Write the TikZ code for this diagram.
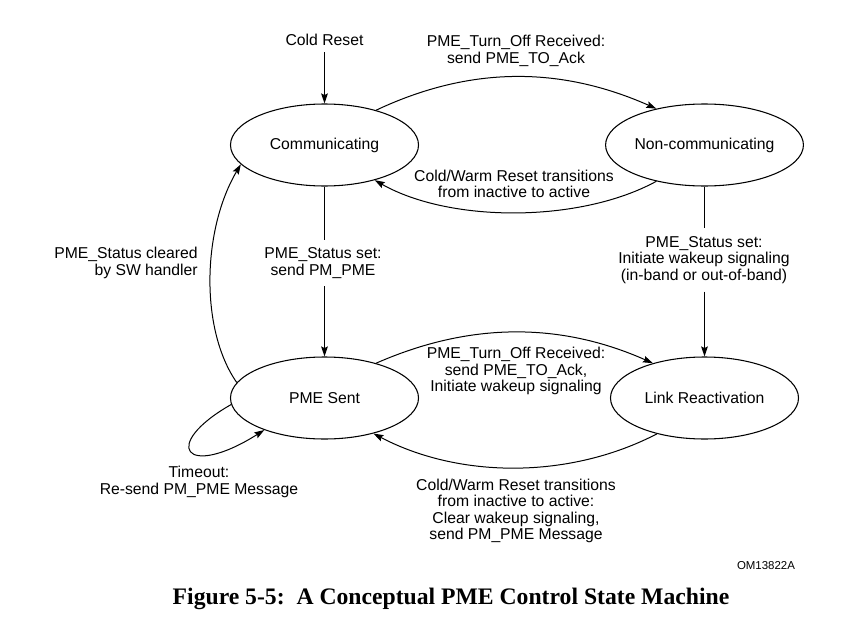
\documentclass[tikz,border=0pt]{standalone}
\usepackage{fontspec}
\setmainfont{Liberation Sans}
\newfontfamily\capfont{Liberation Serif}
\usetikzlibrary{arrows.meta,shapes.geometric}
\begin{document}
\begin{tikzpicture}[x=0.75pt,y=-0.75pt,
  state/.style={draw,ellipse,line width=0.8pt,minimum width=141pt,minimum height=61.5pt,inner sep=0pt,font=\fontsize{11.8}{12.3}\selectfont},
  lbl/.style={align=center,font=\fontsize{11.8}{12.3}\selectfont,inner sep=0pt},
  conn/.style={line width=0.75pt},
  arr/.style={line width=0.75pt,-{Stealth[length=7.5pt,width=5pt,inset=1.2pt]}}]
\useasboundingbox (0,0) rectangle (857,639);

\node[state] (comm) at (324.5,145) {Communicating};
\node[state] (noncomm) at (704.5,145) {Non-communicating};
\node[state] (pme) at (324.5,398) {PME Sent};
\node[state] (link) at (704.5,398) {Link Reactivation};

\node[lbl,outer sep=5pt] (cold) at (324.5,40) {Cold Reset};
\node[lbl] (l1) at (516,51) {PME\_Turn\_Off Received:\\send PME\_TO\_Ack};
\node[lbl] (l2) at (514,184) {Cold/Warm Reset transitions\\from inactive to active};
\node[lbl,outer sep=6pt] (l3) at (323,263) {PME\_Status set:\\send PM\_PME};
\node[lbl,outer sep=6pt] (l4) at (704,260) {PME\_Status set:\\Initiate wakeup signaling\\(in-band or out-of-band)};
\node[lbl,align=right,anchor=east] (l5) at (198,263) {PME\_Status cleared\\by SW handler};
\node[lbl] (l6) at (199,482) {Timeout:\\Re-send PM\_PME Message};
\node[lbl] (l7) at (516,371) {PME\_Turn\_Off Received:\\send PME\_TO\_Ack,\\Initiate wakeup signaling};
\node[lbl] (l8) at (516,511) {Cold/Warm Reset transitions\\from inactive to active:\\Clear wakeup signaling,\\send PM\_PME Message};
\node[inner sep=0pt,font=\fontsize{8.6}{10}\selectfont] (om) at (766,566) {OM13822A};
\node[inner sep=0pt,font=\capfont\bfseries\fontsize{17.75}{20}\selectfont] (cap) at (451,599) {Figure 5-5:\ \ A Conceptual PME Control State Machine};

\draw[arr] (cold) -- (comm);
\draw[arr] (comm.34) .. controls (470,66) and (560,66) .. (noncomm.143);
\draw[arr] (noncomm.217) .. controls (580,223) and (450,223) .. (comm.325);
\draw[conn] (comm) -- (comm |- l3.north);
\draw[arr] (comm |- l3.south) -- (pme);
\draw[conn] (noncomm) -- (noncomm |- l4.north);
\draw[arr] (noncomm |- l4.south) -- (link);
\draw[arr] (pme.170) .. controls (200,330) and (202,230) .. (comm.193);
\draw[arr] (pme.184) .. controls (160,445) and (185,480) .. (pme.208);
\draw[arr] (pme.34) .. controls (470,322) and (560,322) .. (link.146);
\draw[arr] (link.217) .. controls (570,479) and (460,479) .. (pme.324);
\end{tikzpicture}
\end{document}
